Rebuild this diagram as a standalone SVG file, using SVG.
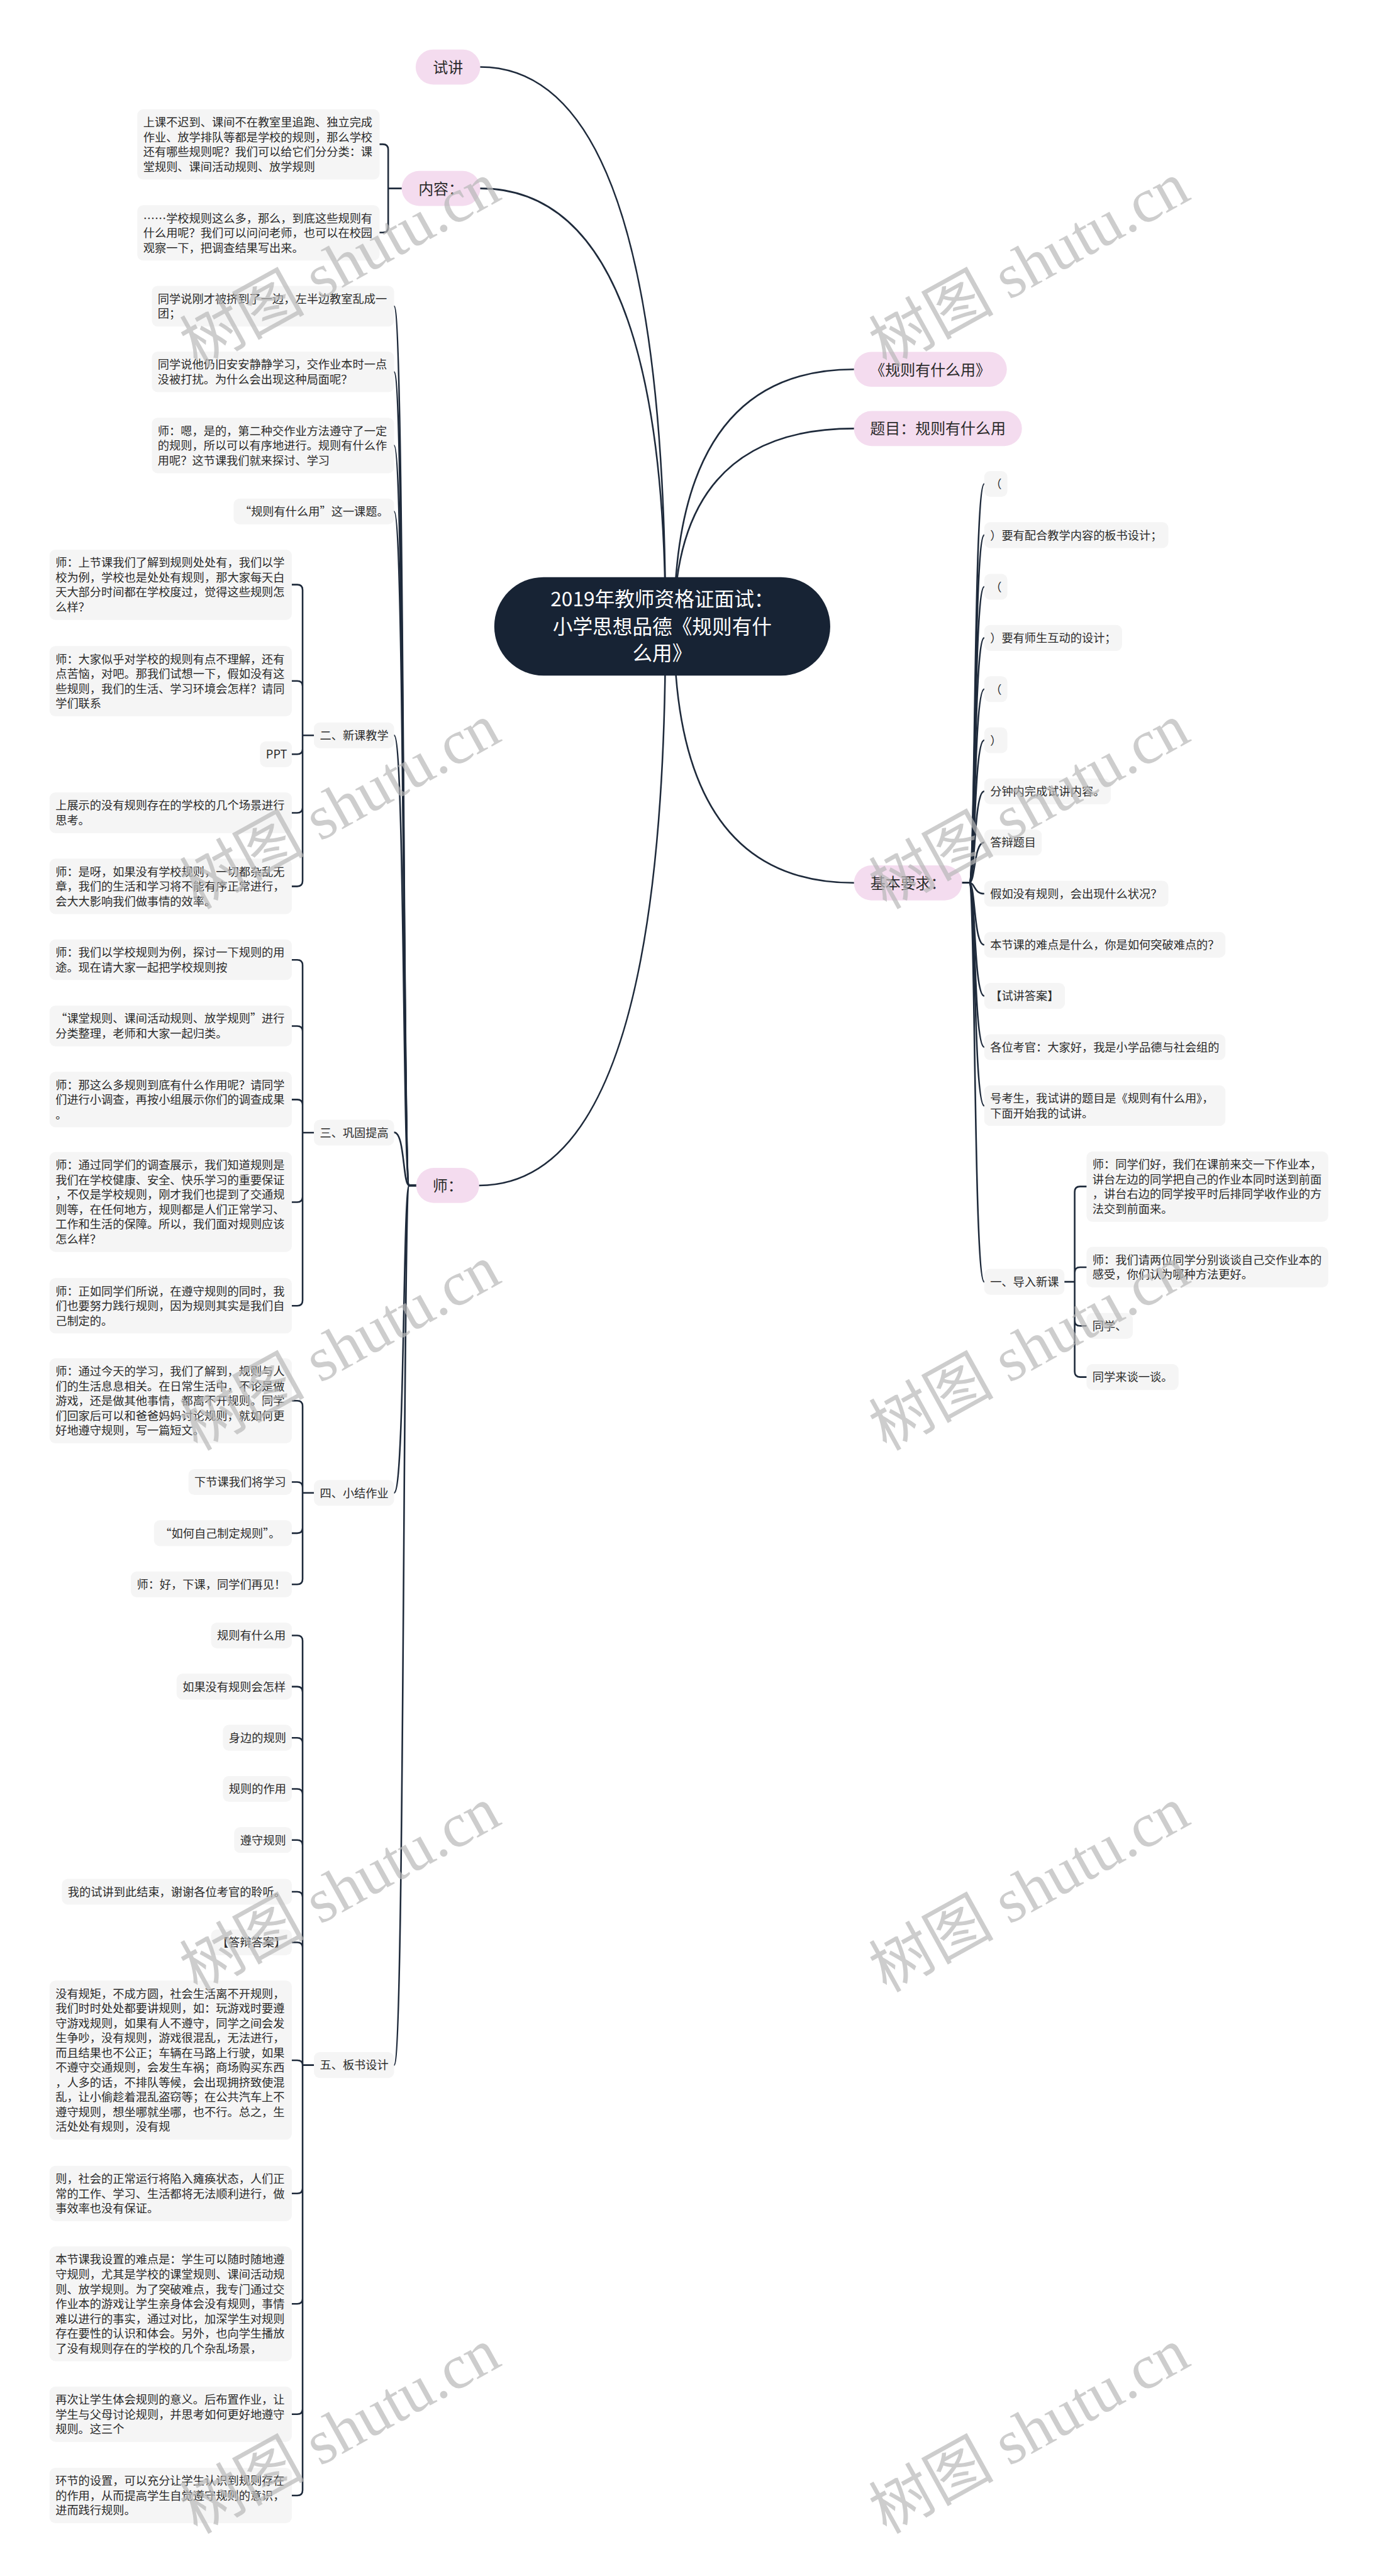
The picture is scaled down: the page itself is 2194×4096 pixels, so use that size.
<svg xmlns="http://www.w3.org/2000/svg" width="2194" height="4096" viewBox="0 0 2194 4096">
<defs><style>
.ln{fill:none;stroke:#1e2a3b;stroke-width:3;stroke-linecap:round}
.pk{fill:#f4dcef}
.bx{fill:#f5f5f5}
text{font-family:"Noto Sans CJK SC","Noto Sans",sans-serif;fill:#2b2b2b}
.t{font-size:21.3px}
.t1{font-size:28px;text-anchor:middle}
.rt{font-size:37px;fill:#ffffff;text-anchor:middle}
.wm text{font-family:"Liberation Serif","Noto Sans CJK SC",serif;font-size:116px;fill:#b8b8b8;opacity:.7}
</style></defs>
<rect width="2194" height="4096" fill="#ffffff"/>
<g transform="scale(0.856)">
<g id="connectors" class="ln">
<path d="M1236 1163Q1236 124.5 892 124.5"/>
<path d="M1236 1163Q1236 350 892 350"/>
<path d="M1236 1163Q1236 2202 890 2202"/>
<path d="M1252 1163Q1252 686 1586 686"/>
<path d="M1252 1163Q1252 796 1586 796"/>
<path d="M1252 1163Q1252 1640 1586 1640"/>
<path d="M746 350H721M721 350V278Q721 268 711 268H705M721 350V422Q721 432 711 432H705"/>
<path d="M773 2202H760C748 2202 752 569 732 569"/>
<path d="M773 2202H760C748 2202 752 691 732 691"/>
<path d="M773 2202H760C748 2202 752 827.5 732 827.5"/>
<path d="M773 2202H760C748 2202 752 950 732 950"/>
<path d="M773 2202H760C748 2202 752 1366 732 1366"/>
<path d="M773 2202H760C748 2202 752 2103.5 732 2103.5"/>
<path d="M773 2202H760C748 2202 752 2773 732 2773"/>
<path d="M773 2202H760C748 2202 752 3836 732 3836"/>
<path d="M583 1366H562M562 1366V1096Q562 1086 552 1086H542M562 1366V1275Q562 1265 552 1265H542M562 1366V1391Q562 1401 552 1401H542M562 1366V1500Q562 1510 552 1510H542M562 1366V1636.5Q562 1646.5 552 1646.5H542"/>
<path d="M583 2104H562M562 2104V1793Q562 1783 552 1783H542M562 2104V1916Q562 1906 552 1906H542M562 2104V2052.5Q562 2042.5 552 2042.5H542M562 2104V2223Q562 2233 552 2233H542M562 2104V2415.5Q562 2425.5 552 2425.5H542"/>
<path d="M583 2773H562M562 2773V2612Q562 2602 552 2602H542M562 2773V2763Q562 2753 552 2753H542M562 2773V2838Q562 2848 552 2848H542M562 2773V2933Q562 2943 552 2943H542"/>
<path d="M583 3836H562M562 3836V3048Q562 3038 552 3038H542M562 3836V3143Q562 3133 552 3133H542M562 3836V3238Q562 3228 552 3228H542M562 3836V3333Q562 3323 552 3323H542M562 3836V3428Q562 3418 552 3418H542M562 3836V3524Q562 3514 552 3514H542M562 3836V3618Q562 3608 552 3608H542M562 3836Q562 3827 552 3827H542M562 3836V4064.5Q562 4074.5 552 4074.5H542M562 3836V4269.5Q562 4279.5 552 4279.5H542M562 3836V4474.5Q562 4484.5 552 4484.5H542M562 3836V4625.5Q562 4635.5 552 4635.5H542"/>
<path d="M1787 1640H1800C1812 1640 1808 899 1828 899"/>
<path d="M1787 1640H1800C1812 1640 1808 994 1828 994"/>
<path d="M1787 1640H1800C1812 1640 1808 1090 1828 1090"/>
<path d="M1787 1640H1800C1812 1640 1808 1185 1828 1185"/>
<path d="M1787 1640H1800C1812 1640 1808 1280 1828 1280"/>
<path d="M1787 1640H1800C1812 1640 1808 1375 1828 1375"/>
<path d="M1787 1640H1800C1812 1640 1808 1470 1828 1470"/>
<path d="M1787 1640H1800C1812 1640 1808 1565 1828 1565"/>
<path d="M1787 1640H1800C1812 1640 1808 1660 1828 1660"/>
<path d="M1787 1640H1800C1812 1640 1808 1755 1828 1755"/>
<path d="M1787 1640H1800C1812 1640 1808 1850 1828 1850"/>
<path d="M1787 1640H1800C1812 1640 1808 1945 1828 1945"/>
<path d="M1787 1640H1800C1812 1640 1808 2054 1828 2054"/>
<path d="M1787 1640H1800C1812 1640 1808 2381 1828 2381"/>
<path d="M1977 2381H1996M1996 2381V2214Q1996 2204 2006 2204H2018M1996 2381V2364Q1996 2354 2006 2354H2018M1996 2381V2453Q1996 2463 2006 2463H2018M1996 2381V2548Q1996 2558 2006 2558H2018"/>
</g>

<g id="root">
<rect x="918" y="1072" width="624" height="183" rx="91.5" fill="#172334"/>
<text class="rt" x="1230" y="1126">2019年教师资格证面试：</text>
<text class="rt" x="1230" y="1178">小学思想品德《规则有什</text>
<text class="rt" x="1230" y="1227">么用》</text>
</g>

<g id="n-shijiang"><rect class="pk" x="772" y="92" width="120" height="65" rx="32.5"/><text class="t1" x="832" y="135">试讲</text></g>
<g id="n-neirong"><rect class="pk" x="746" y="317.5" width="146" height="65" rx="32.5"/><text class="t1" x="819" y="360.5">内容：</text></g>
<g id="n-shi"><rect class="pk" x="773" y="2169.5" width="117" height="65" rx="32.5"/><text class="t1" x="831.5" y="2212.5">师：</text></g>
<g id="n-guize"><rect class="pk" x="1586" y="653.5" width="284" height="65" rx="32.5"/><text class="t1" x="1728" y="697">《规则有什么用》</text></g>
<g id="n-timu"><rect class="pk" x="1586" y="763.5" width="312" height="65" rx="32.5"/><text class="t1" x="1742" y="806.5">题目：规则有什么用</text></g>
<g id="n-jiben"><rect class="pk" x="1586" y="1607.5" width="201" height="65" rx="32.5"/><text class="t1" x="1686.5" y="1650.5">基本要求：</text></g>

<g id="nr-1"><rect class="bx" x="255" y="203" width="450" height="130.5" rx="11"/><text class="t" x="266" y="235">上课不迟到、课间不在教室里追跑、独立完成</text><text class="t" x="266" y="262.5">作业、放学排队等都是学校的规则，那么学校</text><text class="t" x="266" y="290">还有哪些规则呢？我们可以给它们分分类：课</text><text class="t" x="266" y="317.5">堂规则、课间活动规则、放学规则</text></g>
<g id="nr-2"><rect class="bx" x="255" y="381" width="450" height="103" rx="11"/><text class="t" x="266" y="413">……学校规则这么多，那么，到底这些规则有</text><text class="t" x="266" y="440.5">什么用呢？我们可以问问老师，也可以在校园</text><text class="t" x="266" y="468">观察一下，把调查结果写出来。</text></g>

<g id="s-a"><rect class="bx" x="282" y="531" width="450" height="75.5" rx="11"/><text class="t" x="293" y="563">同学说刚才被挤到了一边，左半边教室乱成一</text><text class="t" x="293" y="590.5">团；</text></g>
<g id="s-b"><rect class="bx" x="282" y="653" width="450" height="75.5" rx="11"/><text class="t" x="293" y="685">同学说他仍旧安安静静学习，交作业本时一点</text><text class="t" x="293" y="712.5">没被打扰。为什么会出现这种局面呢？</text></g>
<g id="s-c"><rect class="bx" x="282" y="776" width="450" height="103" rx="11"/><text class="t" x="293" y="808">师：嗯，是的，第二种交作业方法遵守了一定</text><text class="t" x="293" y="835.5">的规则，所以可以有序地进行。规则有什么作</text><text class="t" x="293" y="863">用呢？这节课我们就来探讨、学习</text></g>
<g id="s-d"><rect class="bx" x="434" y="926" width="298" height="48" rx="11"/><text class="t" x="445" y="958">“规则有什么用”这一课题。</text></g>

<g id="l2-xinke"><rect class="bx" x="583" y="1342" width="149" height="48" rx="11"/><text class="t" x="594" y="1374">二、新课教学</text></g>
<g id="l2-gonggu"><rect class="bx" x="583" y="2080" width="149" height="48" rx="11"/><text class="t" x="594" y="2112">三、巩固提高</text></g>
<g id="l2-xiaojie"><rect class="bx" x="583" y="2749" width="149" height="48" rx="11"/><text class="t" x="594" y="2781">四、小结作业</text></g>
<g id="l2-banshu"><rect class="bx" x="583" y="3812" width="149" height="48" rx="11"/><text class="t" x="594" y="3844">五、板书设计</text></g>

<g id="x-1"><rect class="bx" x="92" y="1021" width="450" height="130.5" rx="11"/><text class="t" x="103" y="1053">师：上节课我们了解到规则处处有，我们以学</text><text class="t" x="103" y="1080.5">校为例，学校也是处处有规则，那大家每天白</text><text class="t" x="103" y="1108">天大部分时间都在学校度过，觉得这些规则怎</text><text class="t" x="103" y="1135.5">么样？</text></g>
<g id="x-2"><rect class="bx" x="92" y="1200" width="450" height="130.5" rx="11"/><text class="t" x="103" y="1232">师：大家似乎对学校的规则有点不理解，还有</text><text class="t" x="103" y="1259.5">点苦恼，对吧。那我们试想一下，假如没有这</text><text class="t" x="103" y="1287">些规则，我们的生活、学习环境会怎样？请同</text><text class="t" x="103" y="1314.5">学们联系</text></g>
<g id="x-3"><rect class="bx" x="483" y="1377" width="59" height="48" rx="11"/><text class="t" x="494" y="1409">PPT</text></g>
<g id="x-4"><rect class="bx" x="92" y="1472" width="450" height="75.5" rx="11"/><text class="t" x="103" y="1504">上展示的没有规则存在的学校的几个场景进行</text><text class="t" x="103" y="1531.5">思考。</text></g>
<g id="x-5"><rect class="bx" x="92" y="1595" width="450" height="103" rx="11"/><text class="t" x="103" y="1627">师：是呀，如果没有学校规则，一切都杂乱无</text><text class="t" x="103" y="1654.5">章，我们的生活和学习将不能有序正常进行，</text><text class="t" x="103" y="1682">会大大影响我们做事情的效率。</text></g>

<g id="g-1"><rect class="bx" x="92" y="1745" width="450" height="75.5" rx="11"/><text class="t" x="103" y="1777">师：我们以学校规则为例，探讨一下规则的用</text><text class="t" x="103" y="1804.5">途。现在请大家一起把学校规则按</text></g>
<g id="g-2"><rect class="bx" x="92" y="1868" width="450" height="75.5" rx="11"/><text class="t" x="103" y="1900">“课堂规则、课间活动规则、放学规则”进行</text><text class="t" x="103" y="1927.5">分类整理，老师和大家一起归类。</text></g>
<g id="g-3"><rect class="bx" x="92" y="1991" width="450" height="103" rx="11"/><text class="t" x="103" y="2023">师：那这么多规则到底有什么作用呢？请同学</text><text class="t" x="103" y="2050.5">们进行小调查，再按小组展示你们的调查成果</text><text class="t" x="103" y="2078">。</text></g>
<g id="g-4"><rect class="bx" x="92" y="2140" width="450" height="185.5" rx="11"/><text class="t" x="103" y="2172">师：通过同学们的调查展示，我们知道规则是</text><text class="t" x="103" y="2199.5">我们在学校健康、安全、快乐学习的重要保证</text><text class="t" x="103" y="2227">，不仅是学校规则，刚才我们也提到了交通规</text><text class="t" x="103" y="2254.5">则等，在任何地方，规则都是人们正常学习、</text><text class="t" x="103" y="2282">工作和生活的保障。所以，我们面对规则应该</text><text class="t" x="103" y="2309.5">怎么样？</text></g>
<g id="g-5"><rect class="bx" x="92" y="2374" width="450" height="103" rx="11"/><text class="t" x="103" y="2406">师：正如同学们所说，在遵守规则的同时，我</text><text class="t" x="103" y="2433.5">们也要努力践行规则，因为规则其实是我们自</text><text class="t" x="103" y="2461">己制定的。</text></g>

<g id="z-1"><rect class="bx" x="92" y="2523" width="450" height="158" rx="11"/><text class="t" x="103" y="2555">师：通过今天的学习，我们了解到，规则与人</text><text class="t" x="103" y="2582.5">们的生活息息相关。在日常生活中，不论是做</text><text class="t" x="103" y="2610">游戏，还是做其他事情，都离不开规则。同学</text><text class="t" x="103" y="2637.5">们回家后可以和爸爸妈妈讨论规则，就如何更</text><text class="t" x="103" y="2665">好地遵守规则，写一篇短文。</text></g>
<g id="z-2"><rect class="bx" x="350" y="2729" width="192" height="48" rx="11"/><text class="t" x="361" y="2761">下节课我们将学习</text></g>
<g id="z-3"><rect class="bx" x="286" y="2824" width="256" height="48" rx="11"/><text class="t" x="297" y="2856">“如何自己制定规则”。</text></g>
<g id="z-4"><rect class="bx" x="243" y="2919" width="299" height="48" rx="11"/><text class="t" x="254" y="2951">师：好，下课，同学们再见！</text></g>

<g id="b-1"><rect class="bx" x="392" y="3014" width="150" height="48" rx="11"/><text class="t" x="403" y="3046">规则有什么用</text></g>
<g id="b-2"><rect class="bx" x="328" y="3109" width="214" height="48" rx="11"/><text class="t" x="339" y="3141">如果没有规则会怎样</text></g>
<g id="b-3"><rect class="bx" x="414" y="3204" width="128" height="48" rx="11"/><text class="t" x="425" y="3236">身边的规则</text></g>
<g id="b-4"><rect class="bx" x="414" y="3299" width="128" height="48" rx="11"/><text class="t" x="425" y="3331">规则的作用</text></g>
<g id="b-5"><rect class="bx" x="435" y="3394" width="107" height="48" rx="11"/><text class="t" x="446" y="3426">遵守规则</text></g>
<g id="b-6"><rect class="bx" x="115" y="3490" width="427" height="48" rx="11"/><text class="t" x="126" y="3522">我的试讲到此结束，谢谢各位考官的聆听。</text></g>
<g id="b-7"><rect class="bx" x="392" y="3584" width="150" height="48" rx="11"/><text class="t" x="403" y="3616">【答辩答案】</text></g>
<g id="b-8"><rect class="bx" x="92" y="3679" width="450" height="295.5" rx="11"/><text class="t" x="103" y="3711">没有规矩，不成方圆，社会生活离不开规则，</text><text class="t" x="103" y="3738.5">我们时时处处都要讲规则，如：玩游戏时要遵</text><text class="t" x="103" y="3766">守游戏规则，如果有人不遵守，同学之间会发</text><text class="t" x="103" y="3793.5">生争吵，没有规则，游戏很混乱，无法进行，</text><text class="t" x="103" y="3821">而且结果也不公正；车辆在马路上行驶，如果</text><text class="t" x="103" y="3848.5">不遵守交通规则，会发生车祸；商场购买东西</text><text class="t" x="103" y="3876">，人多的话，不排队等候，会出现拥挤致使混</text><text class="t" x="103" y="3903.5">乱，让小偷趁着混乱盗窃等；在公共汽车上不</text><text class="t" x="103" y="3931">遵守规则，想坐哪就坐哪，也不行。总之，生</text><text class="t" x="103" y="3958.5">活处处有规则，没有规</text></g>
<g id="b-9"><rect class="bx" x="92" y="4023" width="450" height="103" rx="11"/><text class="t" x="103" y="4055">则，社会的正常运行将陷入瘫痪状态，人们正</text><text class="t" x="103" y="4082.5">常的工作、学习、生活都将无法顺利进行，做</text><text class="t" x="103" y="4110">事效率也没有保证。</text></g>
<g id="b-10"><rect class="bx" x="92" y="4173" width="450" height="213" rx="11"/><text class="t" x="103" y="4205">本节课我设置的难点是：学生可以随时随地遵</text><text class="t" x="103" y="4232.5">守规则，尤其是学校的课堂规则、课间活动规</text><text class="t" x="103" y="4260">则、放学规则。为了突破难点，我专门通过交</text><text class="t" x="103" y="4287.5">作业本的游戏让学生亲身体会没有规则，事情</text><text class="t" x="103" y="4315">难以进行的事实，通过对比，加深学生对规则</text><text class="t" x="103" y="4342.5">存在要性的认识和体会。另外，也向学生播放</text><text class="t" x="103" y="4370">了没有规则存在的学校的几个杂乱场景，</text></g>
<g id="b-11"><rect class="bx" x="92" y="4433" width="450" height="103" rx="11"/><text class="t" x="103" y="4465">再次让学生体会规则的意义。后布置作业，让</text><text class="t" x="103" y="4492.5">学生与父母讨论规则，并思考如何更好地遵守</text><text class="t" x="103" y="4520">规则。这三个</text></g>
<g id="b-12"><rect class="bx" x="92" y="4584" width="450" height="103" rx="11"/><text class="t" x="103" y="4616">环节的设置，可以充分让学生认识到规则存在</text><text class="t" x="103" y="4643.5">的作用，从而提高学生自觉遵守规则的意识，</text><text class="t" x="103" y="4671">进而践行规则。</text></g>

<g id="r-1"><rect class="bx" x="1828" y="875" width="43" height="48" rx="11"/><text class="t" x="1839" y="907">（</text></g>
<g id="r-2"><rect class="bx" x="1828" y="970" width="342" height="48" rx="11"/><text class="t" x="1839" y="1002">）要有配合教学内容的板书设计；</text></g>
<g id="r-3"><rect class="bx" x="1828" y="1066" width="43" height="48" rx="11"/><text class="t" x="1839" y="1098">（</text></g>
<g id="r-4"><rect class="bx" x="1828" y="1161" width="256" height="48" rx="11"/><text class="t" x="1839" y="1193">）要有师生互动的设计；</text></g>
<g id="r-5"><rect class="bx" x="1828" y="1256" width="43" height="48" rx="11"/><text class="t" x="1839" y="1288">（</text></g>
<g id="r-6"><rect class="bx" x="1828" y="1351" width="43" height="48" rx="11"/><text class="t" x="1839" y="1383">）</text></g>
<g id="r-7"><rect class="bx" x="1828" y="1446" width="235" height="48" rx="11"/><text class="t" x="1839" y="1478">分钟内完成试讲内容。</text></g>
<g id="r-8"><rect class="bx" x="1828" y="1541" width="107" height="48" rx="11"/><text class="t" x="1839" y="1573">答辩题目</text></g>
<g id="r-9"><rect class="bx" x="1828" y="1636" width="342" height="48" rx="11"/><text class="t" x="1839" y="1668">假如没有规则，会出现什么状况？</text></g>
<g id="r-10"><rect class="bx" x="1828" y="1731" width="448" height="48" rx="11"/><text class="t" x="1839" y="1763">本节课的难点是什么，你是如何突破难点的？</text></g>
<g id="r-11"><rect class="bx" x="1828" y="1826" width="150" height="48" rx="11"/><text class="t" x="1839" y="1858">【试讲答案】</text></g>
<g id="r-12"><rect class="bx" x="1828" y="1921" width="448" height="48" rx="11"/><text class="t" x="1839" y="1953">各位考官：大家好，我是小学品德与社会组的</text></g>
<g id="r-13"><rect class="bx" x="1828" y="2016" width="448" height="75.5" rx="11"/><text class="t" x="1839" y="2048">号考生，我试讲的题目是《规则有什么用》，</text><text class="t" x="1839" y="2075.5">下面开始我的试讲。</text></g>
<g id="r-14"><rect class="bx" x="1828" y="2357" width="149" height="48" rx="11"/><text class="t" x="1839" y="2389">一、导入新课</text></g>

<g id="d-1"><rect class="bx" x="2018" y="2139" width="449" height="130.5" rx="11"/><text class="t" x="2029" y="2171">师：同学们好，我们在课前来交一下作业本，</text><text class="t" x="2029" y="2198.5">讲台左边的同学把自己的作业本同时送到前面</text><text class="t" x="2029" y="2226">，讲台右边的同学按平时后排同学收作业的方</text><text class="t" x="2029" y="2253.5">法交到前面来。</text></g>
<g id="d-2"><rect class="bx" x="2018" y="2316" width="449" height="75.5" rx="11"/><text class="t" x="2029" y="2348">师：我们请两位同学分别谈谈自己交作业本的</text><text class="t" x="2029" y="2375.5">感受，你们认为哪种方法更好。</text></g>
<g id="d-3"><rect class="bx" x="2018" y="2439" width="86" height="48" rx="11"/><text class="t" x="2029" y="2471">同学、</text></g>
<g id="d-4"><rect class="bx" x="2018" y="2534" width="171" height="48" rx="11"/><text class="t" x="2029" y="2566">同学来谈一谈。</text></g>

<g id="watermarks" class="wm">
<text x="366" y="684" transform="rotate(-29 366 684)">树图 shutu.cn</text>
<text x="1646" y="684" transform="rotate(-29 1646 684)">树图 shutu.cn</text>
<text x="366" y="1690" transform="rotate(-29 366 1690)">树图 shutu.cn</text>
<text x="1646" y="1690" transform="rotate(-29 1646 1690)">树图 shutu.cn</text>
<text x="366" y="2696" transform="rotate(-29 366 2696)">树图 shutu.cn</text>
<text x="1646" y="2696" transform="rotate(-29 1646 2696)">树图 shutu.cn</text>
<text x="366" y="3702" transform="rotate(-29 366 3702)">树图 shutu.cn</text>
<text x="1646" y="3702" transform="rotate(-29 1646 3702)">树图 shutu.cn</text>
<text x="366" y="4708" transform="rotate(-29 366 4708)">树图 shutu.cn</text>
<text x="1646" y="4708" transform="rotate(-29 1646 4708)">树图 shutu.cn</text>
</g>
</g>
</svg>
